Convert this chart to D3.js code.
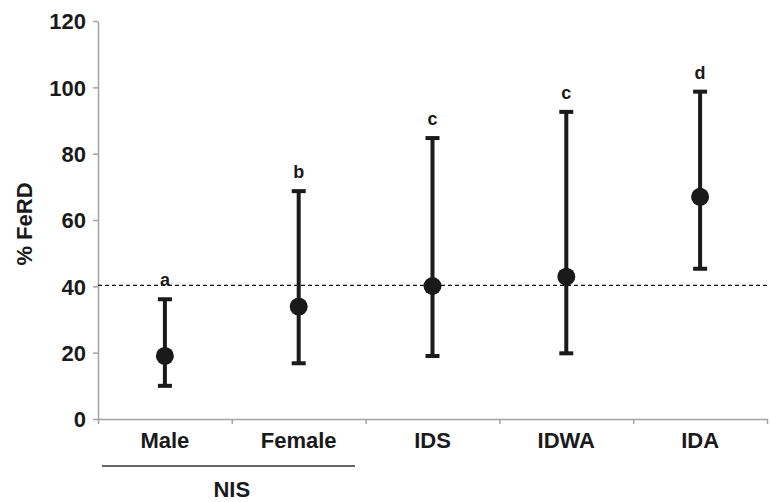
<!DOCTYPE html>
<html>
<head>
<meta charset="utf-8">
<script src="https://cdn.jsdelivr.net/npm/d3@7"></script>
<style>
  body { margin: 0; background: #fff; }
  text { font-family: "Liberation Sans", Arial, sans-serif; font-weight: bold; fill: #1a1a1a; }
</style>
</head>
<body>
<svg width="770" height="502"></svg>
<script>
let groupes = ["Male", "Female", "IDS", "IDWA", "IDA"];
let moyennes = [19.0, 33.9, 40.1, 42.9, 67.0];
let bas = [10.0, 16.8, 19.0, 19.8, 45.3];
let haut = [36.1, 68.7, 84.7, 92.6, 98.7];
let lettres = ["a", "b", "c", "c", "d"];
let yTicks = [0, 20, 40, 60, 80, 100, 120];
let seuil = 40.3;

let svg = d3.select("svg");
let gris = "#a3a3a3";
let noir = "#1a1a1a";

let y = d3.scaleLinear().domain([0, 120]).range([419, 21]);
let x = d3.scaleBand().domain(groupes).range([98, 767]).padding(0);
let xBornes = d3.scaleLinear().domain([0, groupes.length]).range([98, 767]);

// axe y
let axeY = svg.append("g")
    .attr("transform", "translate(98,0)")
    .call(d3.axisLeft(y).tickValues(yTicks).tickSize(5).tickSizeOuter(0).tickPadding(7));
axeY.select(".domain").attr("stroke", gris).attr("stroke-width", 1.5);
axeY.selectAll(".tick line").attr("stroke", gris).attr("stroke-width", 1.5);
axeY.selectAll(".tick text").style("font-size", "22px").attr("dy", "0.36em");

// axe x : ticks entre les categories
let axeX = svg.append("g")
    .attr("transform", "translate(0,419)")
    .call(d3.axisBottom(xBornes).ticks(groupes.length).tickFormat("").tickSize(5).tickSizeOuter(0));
axeX.select(".domain").attr("stroke", gris).attr("stroke-width", 1.5);
axeX.selectAll(".tick line").attr("stroke", gris).attr("stroke-width", 1.5);

// etiquettes x
svg.append("g")
    .selectAll("text")
    .data(groupes)
    .join("text")
    .attr("x", d => x(d) + x.bandwidth() / 2)
    .attr("y", 448)
    .attr("text-anchor", "middle")
    .style("font-size", "22px")
    .text(d => d);

// NIS
svg.append("line")
    .attr("x1", 102).attr("x2", 355)
    .attr("y1", 466).attr("y2", 466)
    .attr("stroke", "#333").attr("stroke-width", 1.5);
svg.append("text")
    .attr("x", (x("Male") + x("Female") + x.bandwidth()) / 2)
    .attr("y", 497)
    .attr("text-anchor", "middle")
    .style("font-size", "22px")
    .text("NIS");

// titre y
svg.append("text")
    .attr("transform", "translate(32,224) rotate(-90)")
    .attr("text-anchor", "middle")
    .style("font-size", "22px")
    .text("% FeRD");

// ligne de reference
svg.append("line")
    .attr("x1", 98).attr("x2", 767)
    .attr("y1", y(seuil)).attr("y2", y(seuil))
    .attr("stroke", "#111").attr("stroke-width", 1.2)
    .attr("stroke-dasharray", "4,3");

let donnees = groupes.map((g, i) => ({ g: g, m: moyennes[i], b: bas[i], h: haut[i], l: lettres[i] }));
let cx = d => x(d.g) + x.bandwidth() / 2;

let barres = svg.append("g").selectAll("g").data(donnees).join("g");
barres.append("line")
    .attr("x1", cx).attr("x2", cx)
    .attr("y1", d => y(d.b)).attr("y2", d => y(d.h))
    .attr("stroke", noir).attr("stroke-width", 4);
barres.append("line")
    .attr("x1", d => cx(d) - 7).attr("x2", d => cx(d) + 7)
    .attr("y1", d => y(d.h)).attr("y2", d => y(d.h))
    .attr("stroke", noir).attr("stroke-width", 4);
barres.append("line")
    .attr("x1", d => cx(d) - 7).attr("x2", d => cx(d) + 7)
    .attr("y1", d => y(d.b)).attr("y2", d => y(d.b))
    .attr("stroke", noir).attr("stroke-width", 4);
barres.append("circle")
    .attr("cx", cx)
    .attr("cy", d => y(d.m))
    .attr("r", 9)
    .attr("fill", noir);
barres.append("text")
    .attr("x", cx)
    .attr("y", d => y(d.h) - 13)
    .attr("text-anchor", "middle")
    .style("font-size", "18px")
    .text(d => d.l);
</script>
</body>
</html>
